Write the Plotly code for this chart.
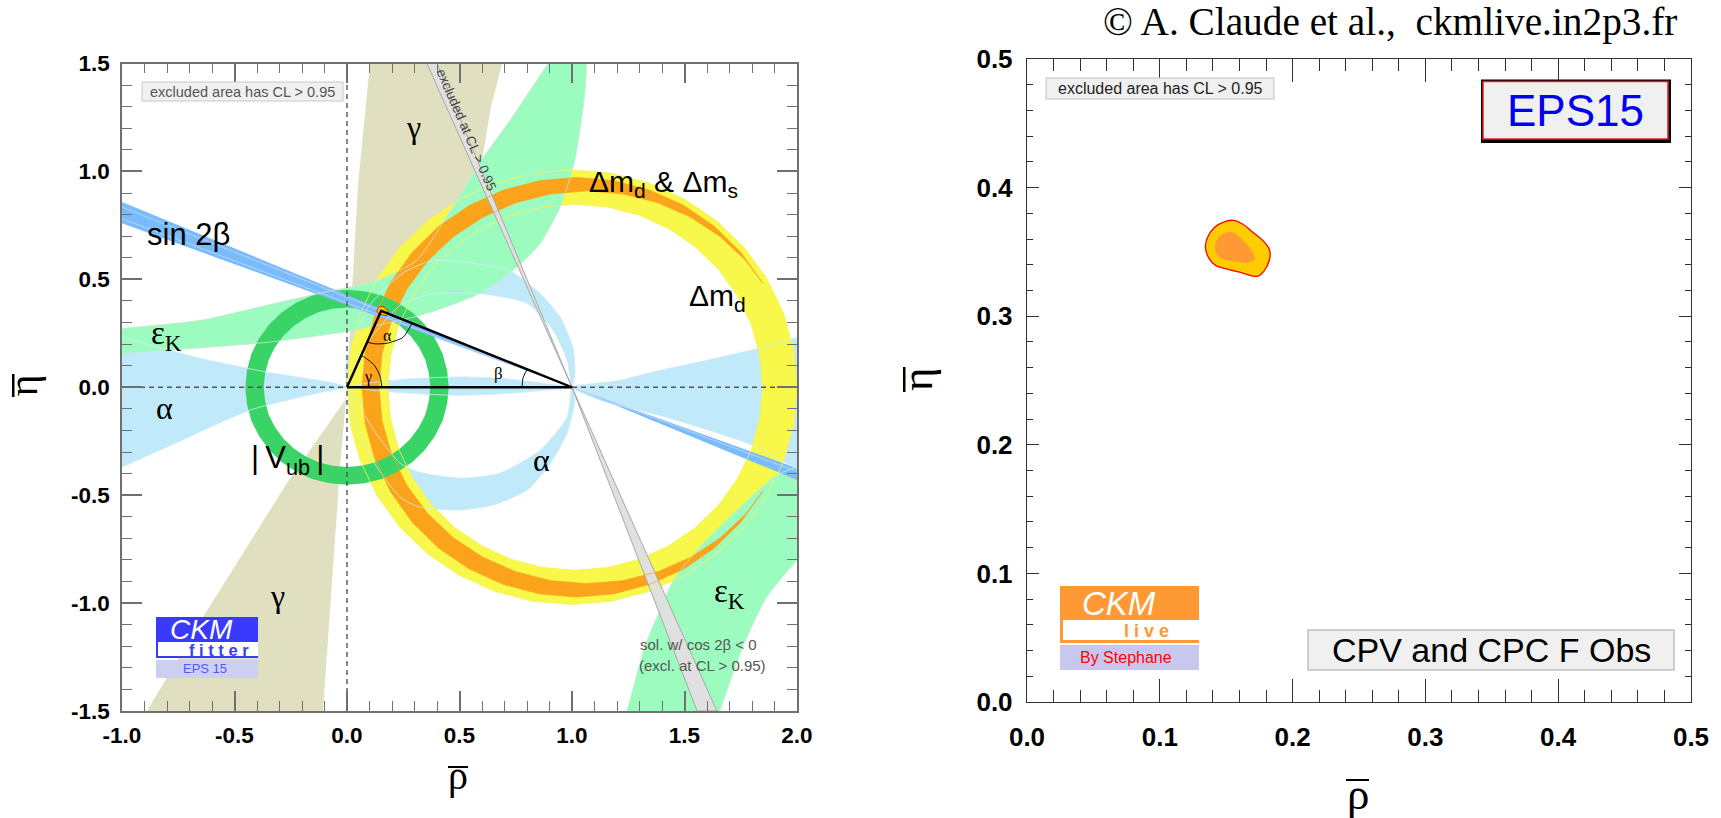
import plotly.graph_objects as go

W, H = 1721, 818

# ---------- left panel values (rho, eta) ----------
left_x_ticks = [-1.0, -0.5, 0.0, 0.5, 1.0, 1.5, 2.0]
left_x_labels = ["-1.0", "-0.5", "0.0", "0.5", "1.0", "1.5", "2.0"]
left_y_ticks = [-1.5, -1.0, -0.5, 0.0, 0.5, 1.0, 1.5]
left_y_labels = ["-1.5", "-1.0", "-0.5", "0.0", "0.5", "1.0", "1.5"]
right_ticks = [0.0, 0.1, 0.2, 0.3, 0.4, 0.5]
right_labels = ["0.0", "0.1", "0.2", "0.3", "0.4", "0.5"]

dm_outer_x = [2.0,1.985,1.94,1.866,1.766,1.643,1.5,1.342,1.174,1.0,.826,.658,.5,.357,.234,.134,.06,.015,0,.015,.06,.134,.234,.357,.5,.658,.826,1.0,1.174,1.342,1.5,1.643,1.766,1.866,1.94,1.985,2.0]
dm_outer_y = [0,.175,.344,.504,.647,.771,.872,.946,.992,1.007,.992,.946,.872,.771,.647,.504,.344,.175,0,-.175,-.344,-.504,-.647,-.771,-.872,-.946,-.992,-1.007,-.992,-.946,-.872,-.771,-.647,-.504,-.344,-.175,0]
dm_inner_x = [1.847,1.834,1.797,1.735,1.652,1.549,1.431,1.299,1.159,1.014,.869,.729,.598,.479,.376,.293,.231,.194,.181,.194,.231,.293,.376,.479,.598,.729,.869,1.014,1.159,1.299,1.431,1.549,1.652,1.735,1.797,1.834,1.847]
dm_inner_y = [0,.147,.29,.424,.545,.65,.734,.797,.835,.848,.835,.797,.734,.65,.545,.424,.29,.147,0,-.147,-.29,-.424,-.545,-.65,-.734,-.797,-.835,-.848,-.835,-.797,-.734,-.65,-.545,-.424,-.29,-.147,0]

dms_x = [1.845,1.75,1.633,1.497,1.346,1.185,1.02,.855,.694,.544,.407,.29,.195,.124,.081,.067,.081,.124,.195,.29,.407,.544,.694,.855,1.02,1.185,1.346,1.497,1.633,1.75,1.845,
         1.848,1.774,1.66,1.528,1.382,1.226,1.066,.906,.75,.604,.472,.358,.266,.198,.156,.142,.156,.198,.266,.358,.472,.604,.75,.906,1.066,1.226,1.382,1.528,1.66,1.774,1.848,1.845]
dms_y = [.486,.625,.745,.842,.913,.957,.972,.957,.913,.842,.745,.625,.486,.332,.169,0,-.169,-.332,-.486,-.625,-.745,-.842,-.913,-.957,-.972,-.957,-.913,-.842,-.745,-.625,-.486,
         -.482,-.585,-.697,-.788,-.855,-.896,-.91,-.896,-.855,-.788,-.697,-.585,-.455,-.311,-.158,0,.158,.311,.455,.585,.697,.788,.855,.896,.91,.896,.855,.788,.697,.585,.482,.486]

vub_outer_x = [.452,.445,.425,.391,.346,.291,.226,.155,.078,0,-.078,-.155,-.226,-.291,-.346,-.391,-.425,-.445,-.452,-.445,-.425,-.391,-.346,-.291,-.226,-.155,-.078,0,.078,.155,.226,.291,.346,.391,.425,.445,.452]
vub_outer_y = [0,.078,.155,.226,.291,.346,.391,.425,.445,.452,.445,.425,.391,.346,.291,.226,.155,.078,0,-.078,-.155,-.226,-.291,-.346,-.391,-.425,-.445,-.452,-.445,-.425,-.391,-.346,-.291,-.226,-.155,-.078,0]
vub_inner_x = [.37,.364,.348,.32,.283,.238,.185,.127,.064,0,-.064,-.127,-.185,-.238,-.283,-.32,-.348,-.364,-.37,-.364,-.348,-.32,-.283,-.238,-.185,-.127,-.064,0,.064,.127,.185,.238,.283,.32,.348,.364,.37]
vub_inner_y = [0,.064,.127,.185,.238,.283,.32,.348,.364,.37,.364,.348,.32,.283,.238,.185,.127,.064,0,-.064,-.127,-.185,-.238,-.283,-.32,-.348,-.364,-.37,-.364,-.348,-.32,-.283,-.238,-.185,-.127,-.064,0]

# band edges run a little past the frame, where they are clipped
eps_up_x = [-1.1,-1.0,-.653,-.356,-.062,.013,.15,.31,.46,.605,.724,.893,1.05,1.075,1.068,1.06,1.05,1.013,.947,.858,.754,.59,.4,.295,.0,-.356,-.8,-1.0,-1.1,-1.1]
eps_up_y = [.26,.272,.31,.38,.449,.463,.5,.588,.82,1.065,1.236,1.5,1.75,1.75,1.55,1.4,1.297,1.05,.834,.665,.556,.434,.357,.325,.258,.208,.171,.156,.145,.26]
eps_lo_x = [1.21,1.244,1.324,1.391,1.45,1.569,1.717,1.91,2.0,2.1,2.1,2.0,1.867,1.76,1.658,1.625,1.21]
eps_lo_y = [-1.6,-1.5,-1.2,-1.032,-.894,-.74,-.585,-.407,-.37,-.33,-.68,-.8,-.97,-1.2,-1.5,-1.6,-1.6]

gamma_up_x = [.102,.05,.027,0,.2,.5,.6,.64,.689,.102]
gamma_up_y = [1.5,.95,.54,0,.4,.8,1.05,1.3,1.5,1.5]
gamma_lo_x = [-.889,-.64,-.267,-.009,0,-.031,-.062,-.107,-.889]
gamma_lo_y = [-1.5,-1.065,-.444,-.06,0,-.37,-.833,-1.5,-1.5]

alpha_left_x = [-1.1,-1.0,-.8,-.653,-.356,-.06,0,-.1,-.431,-.8,-1.0,-1.1,-1.1]
alpha_left_y = [.26,.23,.175,.134,.07,.02,0,-.02,-.106,-.277,-.37,-.42,.26]
alpha_mid_x = [0,.1,.3,.5,.7,.9,1.0,.9,.7,.5,.3,.1,0]
alpha_mid_y = [0,.02,.04,.048,.04,.015,0,-.012,-.03,-.037,-.03,-.012,0]
alpha_right_x = [1.0,1.2,1.4,1.6,1.849,2.0,2.1,2.1,2.0,1.804,1.42,1.124,1.0]
alpha_right_y = [0,.03,.08,.125,.185,.23,.26,-.44,-.38,-.269,-.139,-.06,0]
alpha_top_x = [1.0,1.013,1.004,.947,.858,.724,.532,.382,.25,.1,.02,-.005,0,.05,.1,.236,.382,.59,.8,.916,.978,1.0]
alpha_top_y = [0,.065,.185,.325,.435,.54,.578,.588,.53,.38,.2,.1,0,.14,.22,.38,.435,.434,.389,.264,.125,0]
alpha_bot_x = [1.0,1.013,.978,.9,.8,.649,.502,.324,.236,.12,.05,0,.05,.12,.236,.324,.502,.68,.858,.978,1.0]
alpha_bot_y = [0,-.06,-.213,-.36,-.477,-.546,-.569,-.556,-.509,-.35,-.2,0,-.08,-.2,-.352,-.394,-.421,-.398,-.292,-.139,0]

s2b_left_x = [-1.0,1.0,-1.0,-1.0]
s2b_left_y = [.858,0,.76,.858]
s2b_right_x = [1.0,2.0,2.0,1.0]
s2b_right_y = [0,-.375,-.43,0]
s2b_line_x = [-1.0,1.0,-1.0,None,1.0,2.0,2.0]
s2b_line_y = [.835,0,.781,None,0,-.39,-.415]

cos_up_x = [.355,1.0,.4,.355]
cos_up_y = [1.5,0,1.5,1.5]
cos_lo_x = [1.0,1.556,1.644,1.0]
cos_lo_y = [0,-1.5,-1.5,0]

dash_h_x, dash_h_y = [-1.0, 2.0], [0.0, 0.0]
dash_v_x, dash_v_y = [0.0, 0.0], [-1.5, 1.5]

tri_x = [0, 1.0, .152, 0]
tri_y = [0, 0, .354, 0]
arc_g_x = [.155,.146,.12,.078,.062]
arc_g_y = [0,.055,.104,.139,.148]
arc_a_x = [.093,.124,.178,.249,.289]
arc_a_y = [.208,.201,.204,.231,.296]
arc_b_x = [.778,.782,.8]
arc_b_y = [0,.042,.083]

# ---------- fit contours, also used in right panel ----------
cl95_x = [.1557,.1494,.1407,.1357,.1344,.1369,.142,.1494,.1607,.1733,.1783,.1826,.1826,.1783,.1708,.162,.1557]
cl95_y = [.3745,.3737,.3686,.3608,.353,.3452,.3395,.337,.3341,.331,.3349,.3439,.3517,.3582,.3647,.3719,.3745]
cl68_x = [.152,.1457,.142,.142,.1457,.1533,.167,.1714,.1696,.1633,.157,.152]
cl68_y = [.3655,.3626,.3569,.3504,.3452,.3432,.3418,.3445,.3504,.3582,.3642,.3655]

# ---------- colours ----------
C_ALPHA, C_GAMMA, C_YEL = "#C0EAFA", "#E0DFC0", "#F8F84A"
C_EPS, C_ORA, C_VUB = "#9CFCC0", "#FCA31C", "#3AD466"
C_S2B, C_COS = "#78BCFC", "#E0E0E0"
AX_L, AX_R = "#707070", "#333333"
SANS, SERIF = "Liberation Sans", "Liberation Serif"

fig = go.Figure()


def fill(x, y, color, ax="", smooth=False):
    line = dict(width=0, color=color)
    if smooth:
        line.update(shape="spline", smoothing=0.6)
    fig.add_trace(go.Scatter(x=x, y=y, mode="lines", fill="toself", fillcolor=color, line=line,
                             xaxis="x" + ax, yaxis="y" + ax, hoverinfo="skip", showlegend=False))


def stroke(x, y, color, w=0.8, dash=None, ax="", smooth=False):
    line = dict(width=w, color=color)
    if dash:
        line["dash"] = dash
    if smooth:
        line.update(shape="spline", smoothing=0.6)
    fig.add_trace(go.Scatter(x=x, y=y, mode="lines", line=line, xaxis="x" + ax, yaxis="y" + ax,
                             hoverinfo="skip", showlegend=False))


# fills, back to front
for ax_, ay_ in [(alpha_left_x, alpha_left_y), (alpha_mid_x, alpha_mid_y), (alpha_right_x, alpha_right_y),
                 (alpha_top_x, alpha_top_y), (alpha_bot_x, alpha_bot_y)]:
    fill(ax_, ay_, C_ALPHA, smooth=True)
fill(gamma_up_x, gamma_up_y, C_GAMMA)
fill(gamma_lo_x, gamma_lo_y, C_GAMMA)
fill(dm_outer_x + dm_inner_x[::-1], dm_outer_y + dm_inner_y[::-1], C_YEL)
fill(eps_up_x, eps_up_y, C_EPS, smooth=True)
fill(eps_lo_x, eps_lo_y, C_EPS, smooth=True)
fill(dms_x, dms_y, C_ORA)
fill(vub_outer_x + vub_inner_x[::-1], vub_outer_y + vub_inner_y[::-1], C_VUB)
fill(s2b_left_x, s2b_left_y, C_S2B)
fill(s2b_right_x, s2b_right_y, C_S2B)
fill(cos_up_x, cos_up_y, C_COS)
fill(cos_lo_x, cos_lo_y, C_COS)

# thin contours on top of all fills
for ax_, ay_ in [(alpha_left_x, alpha_left_y), (alpha_top_x, alpha_top_y), (alpha_bot_x, alpha_bot_y),
                 (alpha_right_x, alpha_right_y), (alpha_mid_x, alpha_mid_y)]:
    stroke(ax_, ay_, "#CDEBF8", 0.8, smooth=True)
stroke(dm_outer_x, dm_outer_y, "#F4F060", 0.8)
stroke(dm_inner_x, dm_inner_y, "#F4F060", 0.8)
stroke(eps_up_x, eps_up_y, "#CFE6D4", 0.8, smooth=True)
stroke(eps_lo_x, eps_lo_y, "#BFF0CC", 0.8, smooth=True)
stroke(dms_x, dms_y, "#FCA31C", 0.8)
stroke(s2b_line_x, s2b_line_y, "#CCD4FA", 0.8)
stroke(cos_up_x, cos_up_y, "#A8A8A8", 1)
stroke(cos_lo_x, cos_lo_y, "#A8A8A8", 1)

stroke(dash_h_x, dash_h_y, "#555555", 1.4, dash="5px,4px")
stroke(dash_v_x, dash_v_y, "#555555", 1.4, dash="5px,4px")

fig.add_trace(go.Scatter(x=cl95_x, y=cl95_y, mode="lines", fill="toself", fillcolor="#FFCC00",
                         line=dict(color="#FF0000", width=1, shape="spline"), hoverinfo="skip", showlegend=False))
stroke(tri_x, tri_y, "#000000", 2.4)
stroke(arc_g_x, arc_g_y, "#111111", 1, smooth=True)
stroke(arc_a_x, arc_a_y, "#111111", 1, smooth=True)
stroke(arc_b_x, arc_b_y, "#111111", 1, smooth=True)

# right panel
fig.add_trace(go.Scatter(x=cl95_x, y=cl95_y, mode="lines", fill="toself", fillcolor="#FFCC00", xaxis="x2", yaxis="y2",
                         line=dict(color="#FF0000", width=1.3, shape="spline"), hoverinfo="skip", showlegend=False))
fig.add_trace(go.Scatter(x=cl68_x, y=cl68_y, mode="lines", fill="toself", fillcolor="#FF9933", xaxis="x2", yaxis="y2",
                         line=dict(color="#FF9933", width=0, shape="spline"), hoverinfo="skip", showlegend=False))


def fx(p):
    return p / W


def fy(p):
    return 1 - p / H


def label(px, py, text, size, color="#000000", family=SANS, angle=0, **kw):
    fig.add_annotation(xref="paper", yref="paper", x=fx(px), y=fy(py), text=text, showarrow=False, textangle=angle,
                       xanchor="center", yanchor="middle", font=dict(size=size, color=color, family=family), **kw)


def rect(x0, y0, x1, y1, fillc, linec=None, lw=1):
    fig.add_shape(type="rect", xref="paper", yref="paper", x0=fx(x0), x1=fx(x1), y0=fy(y0), y1=fy(y1),
                  fillcolor=fillc, line=dict(color=linec or fillc, width=lw if linec else 0), layer="above")


# left labels
label(413, 127, "γ", 32, family=SERIF)
label(188, 235, "sin 2β", 31)
label(663, 183, "Δm<sub>d</sub> &amp; Δm<sub>s</sub>", 30)
label(717, 297, "Δm<sub>d</sub>", 30)
label(166, 335, "ε<sub>K</sub>", 33, family=SERIF)
label(164, 408, "α", 32, family=SERIF)
label(541, 460, "α", 32, family=SERIF)
label(287, 460, "|\u2009V<sub>ub</sub>\u2009|", 31)
label(277, 596, "γ", 32, family=SERIF)
label(729, 593, "ε<sub>K</sub>", 33, family=SERIF)
label(698, 644, "sol. w/ cos 2β &lt; 0", 15, color="#555555")
label(702.5, 665, "(excl. at CL &gt; 0.95)", 15, color="#555555")
label(387, 335, "α", 16, family=SERIF)
label(368, 377, "γ", 16, family=SERIF)
label(498, 373, "β", 17, family=SERIF)
label(467, 130, "excluded at CL &gt; 0.95", 13.5, color="#444444", angle=66.6)

rect(142, 82, 343, 101, "#F0F0F0", "#C8C8C8", 1)
label(242.5, 91.5, "excluded area has CL &gt; 0.95", 14.5, color="#555555")

rect(156, 617, 258, 658, "#3A3AFF")
rect(158, 642, 258, 656, "#FFFFFF")
rect(156, 660, 258, 678, "#CCD0EE")
label(201, 629, "<i>CKM</i>", 28, color="#FFFFFF")
label(219, 650, "<b>f i t t e r</b>", 16.5, color="#3A3AFF")
label(205, 668, "EPS 15", 13, color="#5555FF")

# axis titles (glyph plus its bar)
label(458, 775, "ρ", 40, family=SERIF)
rect(448, 766, 468, 768, "#000000")
label(23, 385.5, "η", 42, family=SERIF, angle=-90)
rect(12, 374, 14.5, 397, "#000000")
label(1357.5, 794, "ρ", 45, family=SERIF)
rect(1346, 779, 1369, 781, "#000000")
label(917, 379, "η", 45, family=SERIF, angle=-90)
rect(903, 367, 905.5, 392, "#000000")

# right labels
label(1390, 22, "© A. Claude et al.,\u00a0 ckmlive.in2p3.fr", 39.3, family=SERIF)
rect(1046, 78, 1274, 99, "#F0F0F0", "#C0C0C0", 1)
label(1160, 88.5, "excluded area has CL &gt; 0.95", 16, color="#222222")

rect(1481, 79.5, 1671, 143, "#000000")
rect(1483, 81.5, 1668, 139, "#F0F0F0", "#E02020", 1.5)
label(1575, 110, "EPS15", 44, color="#0000EE")

rect(1308, 630, 1674, 670, "#F0F0F0", "#C0C0C0", 1.5)
label(1491, 650, "CPV and CPC F Obs", 34, color="#000000")

rect(1060, 586, 1199, 643, "#FF9933")
rect(1063, 620, 1199, 640, "#FFFFFF")
rect(1060, 645, 1199, 670, "#C8C8EE")
label(1119, 603, "<i>CKM</i>", 33, color="#FFFFFF")
label(1146.5, 631, "<b>l i v e</b>", 18, color="#FF9933")
label(1126, 657, "By Stephane", 16, color="#FF0000")

tickfont_l = dict(family=SANS, size=22.5, color="#000000", weight="bold")
tickfont_r = dict(family=SANS, size=26, color="#000000", weight="bold")

fig.update_layout(
    width=W, height=H, autosize=False, margin=dict(l=0, r=0, t=0, b=0),
    paper_bgcolor="#FFFFFF", plot_bgcolor="#FFFFFF", showlegend=False,
    xaxis=dict(domain=[fx(122), fx(797)], range=[-1, 2], tickmode="array", tickvals=left_x_ticks, ticktext=left_x_labels,
               ticks="inside", ticklen=20, tickwidth=1.5, tickcolor=AX_L, showline=True, linecolor=AX_L, linewidth=1.5,
               mirror="allticks", showgrid=False, zeroline=False, tickfont=tickfont_l, anchor="y", automargin=False,
               minor=dict(dtick=0.1, tick0=-1, ticks="inside", ticklen=10, tickwidth=1, tickcolor=AX_L, showgrid=False),
               ticklabelstandoff=3),
    yaxis=dict(domain=[fy(711), fy(63.5)], range=[-1.5, 1.5], tickmode="array", tickvals=left_y_ticks, ticktext=left_y_labels,
               ticks="inside", ticklen=20, tickwidth=1.5, tickcolor=AX_L, showline=True, linecolor=AX_L, linewidth=1.5,
               mirror="allticks", showgrid=False, zeroline=False, tickfont=tickfont_l, anchor="x", automargin=False,
               minor=dict(dtick=0.1, tick0=-1.5, ticks="inside", ticklen=10, tickwidth=1, tickcolor=AX_L, showgrid=False),
               ticklabelstandoff=6),
    xaxis2=dict(domain=[fx(1027), fx(1691)], range=[0, 0.5], tickmode="array", tickvals=right_ticks, ticktext=right_labels,
                ticks="inside", ticklen=23, tickwidth=1, tickcolor=AX_R, showline=True, linecolor=AX_R, linewidth=1.4,
                mirror="allticks", showgrid=False, zeroline=False, tickfont=tickfont_r, anchor="y2", automargin=False,
                minor=dict(dtick=0.02, tick0=0, ticks="inside", ticklen=12, tickwidth=1, tickcolor=AX_R, showgrid=False),
                ticklabelstandoff=12),
    yaxis2=dict(domain=[fy(702), fy(59)], range=[0, 0.5], tickmode="array", tickvals=right_ticks, ticktext=right_labels,
                ticks="inside", ticklen=12, tickwidth=1, tickcolor=AX_R, showline=True, linecolor=AX_R, linewidth=1.4,
                mirror="allticks", showgrid=False, zeroline=False, tickfont=tickfont_r, anchor="x2", automargin=False,
                minor=dict(dtick=0.02, tick0=0, ticks="inside", ticklen=6, tickwidth=1, tickcolor=AX_R, showgrid=False),
                ticklabelstandoff=8),
)

fig.write_html("out.html", post_script="document.body.style.margin='0';", config={"displayModeBar": False})
